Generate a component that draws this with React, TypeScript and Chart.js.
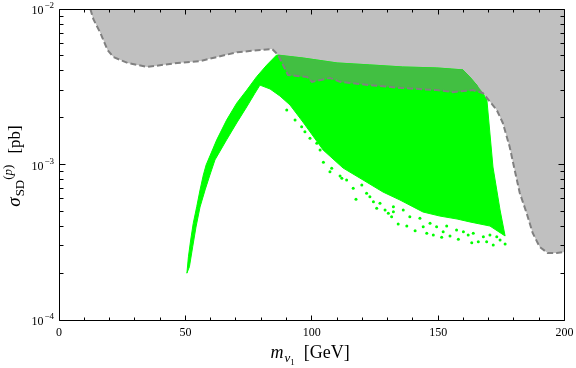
import React, { useEffect, useRef } from "react";
import { Chart, registerables } from "chart.js";

Chart.register(...registerables);

// Excluded region boundary (dashed curve); region above it is shaded gray
const boundaryX = [12.4, 13.6, 16.4, 19.2, 21.5, 27.1, 35.0, 46.8, 55.9, 70.5, 79.6, 84.3, 86.7, 90.6, 98.1, 100.1, 107.2, 111.2, 123.0, 136.0, 149.5, 155.8, 163.7, 167.7, 173.2, 175.6, 178.3, 180.3, 182.3, 185.0, 187.4, 190.2, 193.3, 196.9, 200];
const boundaryY = [1.0e-2, 8.6e-3, 7.0e-3, 5.45e-3, 4.91e-3, 4.5e-3, 4.24e-3, 4.5e-3, 4.63e-3, 5.28e-3, 5.44e-3, 5.53e-3, 5.06e-3, 3.76e-3, 3.66e-3, 3.4e-3, 3.6e-3, 3.4e-3, 3.24e-3, 3.1e-3, 3.01e-3, 2.92e-3, 3.01e-3, 2.88e-3, 2.24e-3, 1.85e-3, 1.3e-3, 9.2e-4, 6.56e-4, 4.88e-4, 3.63e-4, 2.95e-4, 2.7e-4, 2.7e-4, 2.74e-4];

// Outline of the dense scan region (green)
const scanX = [50.6, 51.2, 52.1, 53.1, 54.5, 55.8, 57.1, 58.2, 62.4, 66.3, 70.3, 74.3, 78.2, 82.2, 86.1,
  96.6, 110.0, 123.0, 136.0, 149.5, 159.8, 162.5, 165.3, 166.5, 167.7,
  169.3, 171.7, 174.5, 176.5,
  170.5, 162.6, 157.5, 150.7, 144.0, 134.9, 128.2, 120.3, 112.4, 104.5, 96.5, 91.4, 87.4, 83.5, 79.5,
  77.5, 74.3, 70.3, 66.3, 61.7, 59.7, 57.8, 55.8, 54.2, 52.9, 51.6, 50.6];
const scanY = [2.0e-4, 2.55e-4, 3.27e-4, 4.18e-4, 5.36e-4, 6.86e-4, 8.56e-4, 9.93e-4, 1.44e-3, 1.93e-3, 2.48e-3, 3.01e-3, 3.67e-3, 4.36e-3, 5.06e-3,
  4.84e-3, 4.5e-3, 4.37e-3, 4.24e-3, 4.18e-3, 4.06e-3, 3.66e-3, 3.24e-3, 2.92e-3, 2.88e-3,
  2.6e-3, 9.63e-4, 5.1e-4, 3.47e-4,
  4.02e-4, 4.27e-4, 4.46e-4, 4.66e-4, 4.95e-4, 5.91e-4, 6.65e-4, 7.95e-4, 9.49e-4, 1.24e-3, 1.876e-3, 2.414e-3, 2.758e-3, 3.06e-3, 3.24e-3,
  2.87e-3, 2.35e-3, 1.85e-3, 1.44e-3, 1.07e-3, 8.56e-4, 6.86e-4, 5.33e-4, 3.96e-4, 2.96e-4, 2.2e-4, 2.0e-4];

// Part of the scan lying inside the excluded region (dark green)
const overlapX = [86.7, 96.6, 110.0, 123.0, 136.0, 149.5, 159.8, 162.5, 165.3, 167.7, 163.7, 155.8, 149.5, 136.0, 123.0, 111.2, 107.2, 100.1, 98.1, 90.6];
const overlapY = [5.06e-3, 4.84e-3, 4.5e-3, 4.37e-3, 4.24e-3, 4.18e-3, 4.06e-3, 3.66e-3, 3.24e-3, 2.88e-3, 3.01e-3, 2.92e-3, 3.01e-3, 3.1e-3, 3.24e-3, 3.4e-3, 3.6e-3, 3.4e-3, 3.66e-3, 3.76e-3];

// Sparse scan points along the lower edge
const dotsX = [90.1, 93.4, 96.0, 97.3, 99.3, 102.0, 103.3, 104.6, 107.2, 107.9, 111.2, 111.9, 113.8, 116.4, 117.5, 119.8, 121.7, 123.0, 124.4, 125.7, 127.0, 129.0, 130.3, 134.2, 132.3, 137.6, 140.9, 144.1, 145.5, 148.1, 151.4, 152.0, 154.7, 158.0, 161.9, 163.3, 165.9, 169.2, 171.8, 174.5, 176.5, 138.8, 142.8, 146.8, 149.4, 153.4, 157.3, 160.0, 163.9, 167.9, 170.5, 173.2, 136.2, 132.3, 131.6];
const dotsY = [2.242e-3, 1.932e-3, 1.75e-3, 1.625e-3, 1.474e-3, 1.369e-3, 1.24e-3, 1.033e-3, 8.99e-4, 9.45e-4, 8.43e-4, 8.15e-4, 7.95e-4, 7.03e-4, 5.97e-4, 7.38e-4, 6.53e-4, 6.21e-4, 5.76e-4, 5.23e-4, 5.63e-4, 5.1e-4, 4.86e-4, 4.14e-4, 5.35e-4, 4.02e-4, 3.75e-4, 3.98e-4, 3.61e-4, 3.52e-4, 3.4e-4, 3.7e-4, 3.47e-4, 3.3e-4, 3.52e-4, 3.14e-4, 3.19e-4, 3.19e-4, 3.04e-4, 3.27e-4, 3.08e-4, 4.62e-4, 4.51e-4, 4.19e-4, 3.98e-4, 4.02e-4, 3.79e-4, 3.7e-4, 3.61e-4, 3.43e-4, 3.52e-4, 3.43e-4, 5.1e-4, 4.97e-4, 4.62e-4];

const xTickValues = [0, 50, 100, 150, 200];
const yDecadeExponents = [-4, -3, -2];

const zip = (xs: number[], ys: number[]) => xs.map((x, i) => ({ x, y: ys[i] }));

const SERIF = '"Liberation Serif", "Times New Roman", serif';

function drawRich(ctx: CanvasRenderingContext2D, parts: { t: string; f: string; dy: number; dx?: number }[], cx: number, baseline: number) {
  let w = 0;
  for (const p of parts) {
    ctx.font = p.f;
    w += (p.dx || 0) + ctx.measureText(p.t).width;
  }
  let x = cx - w / 2;
  for (const p of parts) {
    ctx.font = p.f;
    x += p.dx || 0;
    ctx.fillText(p.t, x, baseline + p.dy);
    x += ctx.measureText(p.t).width;
  }
}

const framePlugin = {
  id: "frameTicks",
  afterDatasetsDraw(chart: any) {
    const { ctx, chartArea: a, scales } = chart;
    const xs = scales.x;
    const ys = scales.y;
    const L = Math.floor(a.left) + 0.5;
    const R = Math.floor(a.right) + 0.5;
    const T = Math.floor(a.top) + 0.5;
    const B = Math.floor(a.bottom) + 0.5;
    ctx.save();
    ctx.strokeStyle = "#000";
    ctx.lineWidth = 1;
    ctx.beginPath();
    ctx.rect(L, T, R - L, B - T);
    ctx.stroke();

    ctx.beginPath();
    for (let v = 0; v <= 200; v += 10) {
      const px = Math.floor(xs.getPixelForValue(v)) + 0.5;
      const len = v % 50 === 0 ? 5 : 3;
      ctx.moveTo(px, B);
      ctx.lineTo(px, B - len);
      ctx.moveTo(px, T);
      ctx.lineTo(px, T + len);
    }
    for (const k of yDecadeExponents) {
      for (let m = 1; m <= 9; m++) {
        const v = m * Math.pow(10, k);
        if (v > 1.0001e-2) continue;
        const py = Math.floor(ys.getPixelForValue(v)) + 0.5;
        const len = m === 1 ? 6 : 4;
        ctx.moveTo(L, py);
        ctx.lineTo(L + len, py);
        ctx.moveTo(R, py);
        ctx.lineTo(R - len, py);
      }
    }
    ctx.stroke();

    ctx.fillStyle = "#000";
    ctx.textBaseline = "alphabetic";
    ctx.textAlign = "center";
    ctx.font = `12px ${SERIF}`;
    for (const v of xTickValues) {
      ctx.fillText(String(v), xs.getPixelForValue(v), 336);
    }
    for (const k of yDecadeExponents) {
      const py = ys.getPixelForValue(Math.pow(10, k));
      ctx.textAlign = "right";
      ctx.font = `12px ${SERIF}`;
      ctx.fillText("10", 43.5, py + 5);
      ctx.textAlign = "left";
      ctx.font = `9px ${SERIF}`;
      ctx.fillText("\u2212" + String(-k), 44.5, py - 1);
    }

    // x title
    ctx.textAlign = "left";
    drawRich(ctx, [
      { t: "m", f: `italic 18px ${SERIF}`, dy: 0 },
      { t: "\u03BD", f: `italic 13px ${SERIF}`, dy: 4, dx: 1 },
      { t: "1", f: `9px ${SERIF}`, dy: 7 },
      { t: "[GeV]", f: `18px ${SERIF}`, dy: 0, dx: 9 },
    ], 310, 358);

    // y title (rotated)
    ctx.save();
    ctx.translate(20, 166);
    ctx.rotate(-Math.PI / 2);
    drawRich(ctx, [
      { t: "\u03C3", f: `italic 19px ${SERIF}`, dy: 0 },
      { t: "SD", f: `13px ${SERIF}`, dy: 4, dx: 1 },
      { t: "(", f: `13px ${SERIF}`, dy: -8, dx: 0 },
      { t: "p", f: `italic 13px ${SERIF}`, dy: -8 },
      { t: ")", f: `13px ${SERIF}`, dy: -8 },
      { t: "[pb]", f: `17px ${SERIF}`, dy: 0, dx: 11 },
    ], 0, 0);
    ctx.restore();
    ctx.restore();
  },
};

export default function App() {
  const ref = useRef<HTMLCanvasElement>(null);
  useEffect(() => {
    document.body.style.margin = "0";
    const chart = new Chart(ref.current as HTMLCanvasElement, {
      type: "scatter",
      data: {
        datasets: [
          {
            data: zip(boundaryX, boundaryY),
            showLine: true,
            fill: "end",
            backgroundColor: "#c0c0c0",
            borderColor: "rgba(0,0,0,0)",
            borderWidth: 0,
            pointRadius: 0,
            order: 5,
          } as any,
          {
            data: zip(scanX, scanY),
            showLine: true,
            fill: "shape",
            backgroundColor: "#00ff00",
            borderColor: "#00ff00",
            borderWidth: 1,
            pointRadius: 0,
            order: 4,
          } as any,
          {
            data: zip(dotsX, dotsY),
            showLine: false,
            backgroundColor: "#00ff00",
            borderWidth: 0,
            pointRadius: 1.5,
            order: 3,
          } as any,
          {
            data: zip(overlapX, overlapY),
            showLine: true,
            fill: "shape",
            backgroundColor: "#42bf42",
            borderColor: "#42bf42",
            borderWidth: 0.5,
            pointRadius: 0,
            order: 2,
          } as any,
          {
            data: zip(boundaryX, boundaryY),
            showLine: true,
            fill: false,
            borderColor: "#808080",
            borderWidth: 2,
            borderDash: [6, 3],
            pointRadius: 0,
            order: 1,
          } as any,
        ],
      },
      options: {
        responsive: false,
        animation: false,
        events: [],
        layout: { padding: { left: 59, right: 11.5, top: 9, bottom: 48 } },
        plugins: { legend: { display: false }, tooltip: { enabled: false } },
        scales: {
          x: { type: "linear", min: 0, max: 200, display: false },
          y: { type: "logarithmic", min: 1e-4, max: 1e-2, display: false },
        },
      },
      plugins: [framePlugin],
    });
    return () => chart.destroy();
  }, []);
  return (
    <div style={{ width: 576, height: 368 }}>
      <canvas ref={ref} width={576} height={368} style={{ display: "block" }} />
    </div>
  );
}
